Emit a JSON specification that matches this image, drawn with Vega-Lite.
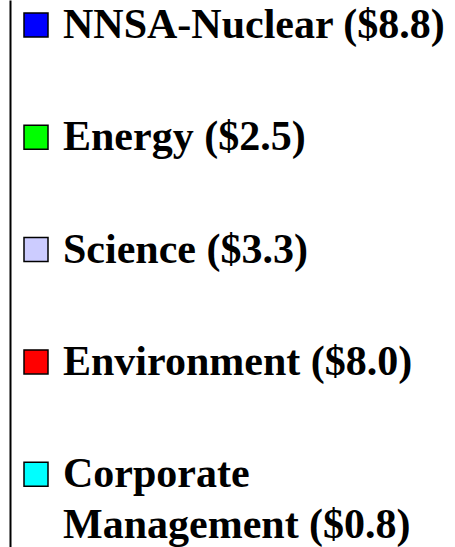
{
  "$schema": "https://vega.github.io/schema/vega-lite/v6.json",
  "width": 445,
  "height": 547,
  "autosize": "none",
  "padding": {"left": 10, "top": 0, "right": 0, "bottom": 0},
  "background": "white",
  "config": {"view": {"stroke": null}},
  "data": {
    "values": [
      {"division": "NNSA-Nuclear ($8.8)", "budget": 8.8},
      {"division": "Energy ($2.5)", "budget": 2.5},
      {"division": "Science ($3.3)", "budget": 3.3},
      {"division": "Environment ($8.0)", "budget": 8.0},
      {"division": "Corporate Management ($0.8)", "budget": 0.8}
    ]
  },
  "mark": {"type": "square", "opacity": 0},
  "encoding": {
    "y": {
      "field": "budget",
      "type": "quantitative",
      "axis": {
        "domain": true,
        "domainColor": "black",
        "domainWidth": 2,
        "ticks": false,
        "labels": false,
        "grid": false,
        "title": null
      }
    },
    "color": {
      "field": "division",
      "type": "nominal",
      "scale": {
        "domain": ["NNSA-Nuclear ($8.8)", "Energy ($2.5)", "Science ($3.3)", "Environment ($8.0)", "Corporate Management ($0.8)"],
        "range": ["#0000FF", "#00FF00", "#CCCCFF", "#FF0000", "#00FFFF"]
      },
      "legend": {
        "title": null,
        "orient": "none",
        "legendX": 5,
        "legendY": 4,
        "padding": 0,
        "symbolType": "square",
        "symbolSize": 576,
        "symbolOpacity": 1,
        "symbolStrokeColor": "black",
        "symbolStrokeWidth": 1.5,
        "labelFont": "Liberation Serif",
        "labelFontSize": 42,
        "labelFontWeight": "bold",
        "labelColor": "black",
        "labelLimit": 1000,
        "labelOffset": 6,
        "labelBaseline": "alphabetic",
        "rowPadding": 70.3,
        "labelExpr": "datum.label == 'Corporate Management ($0.8)' ? ['Corporate', 'Management ($0.8)'] : datum.label",
        "encode": {
          "labels": {"update": {"dy": {"value": 13}, "lineHeight": {"value": 51}}}
        }
      }
    }
  }
}
